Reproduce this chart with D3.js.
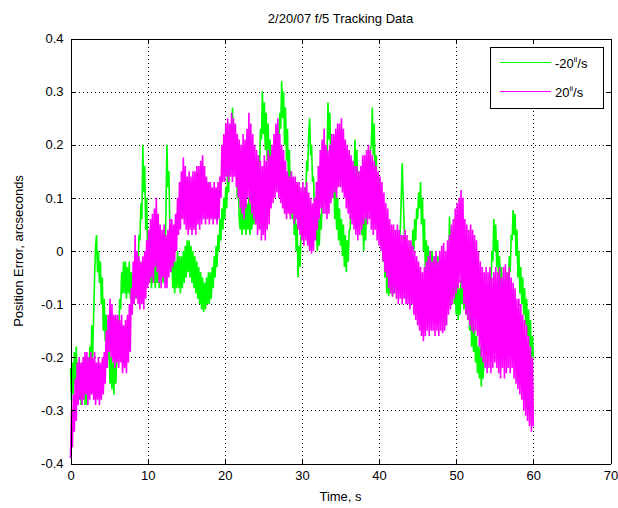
<!doctype html>
<html lang="en">
<head>
<meta charset="UTF-8">
<title>2/20/07 f/5 Tracking Data</title>
<style>
    body { margin: 0; background: #fff; }
    svg { display: block; font-family: "Liberation Sans", Arial, sans-serif; }
    .grid line { stroke: #000; stroke-width: 1; stroke-dasharray: 1,3; shape-rendering: crispEdges; }
    .axis path, .axis line { stroke: #000; shape-rendering: crispEdges; }
</style>
</head>
<body>
<div class="chart"></div>
<script src="https://cdn.jsdelivr.net/npm/d3@7"></script>
<script>
const xTicks = [0, 10, 20, 30, 40, 50, 60, 70]
const yTicks = [-0.4, -0.3, -0.2, -0.1, 0, 0.1, 0.2, 0.3, 0.4]
const yTickLabels = ['-0.4', '-0.3', '-0.2', '-0.1', '0', '0.1', '0.2', '0.3', '0.4']

// samples every 0.125 s (one row = 1 s)
const sampleStep = 0.125
const minus20 = [
    -0.22, -0.28, -0.21, -0.27, -0.19, -0.25, -0.18, -0.26,
    -0.21, -0.28, -0.22, -0.29, -0.21, -0.28, -0.22, -0.29,
    -0.21, -0.29, -0.20, -0.27, -0.18, -0.24, -0.14, -0.20,
    -0.12, -0.05, 0.01, 0.03, -0.04, 0.00, -0.06, -0.02,
    -0.10, -0.05, -0.15, -0.09, -0.17, -0.12, -0.22, -0.16,
    -0.19, -0.25, -0.20, -0.26, -0.21, -0.27, -0.19, -0.25,
    -0.20, -0.13, -0.16, -0.09, -0.11, -0.04, -0.08, -0.02,
    -0.08, -0.02, -0.09, -0.03, -0.08, -0.02, -0.09, -0.04,
    -0.10, -0.04, -0.10, -0.05, -0.09, -0.03, -0.04, 0.03,
    0.02, 0.09, 0.06, 0.20, 0.11, 0.16, 0.04, 0.10,
    -0.02, 0.03, -0.06, 0.00, -0.07, -0.01, -0.06, 0.00,
    -0.07, -0.01, -0.06, 0.00, -0.07, -0.01, -0.05, 0.00,
    -0.06, 0.00, -0.02, 0.08, 0.20, 0.12, 0.15, 0.05,
    -0.04, 0.02, -0.07, -0.01, -0.08, -0.02, -0.07, 0.00,
    -0.07, -0.01, -0.08, -0.01, -0.07, 0.00, -0.06, 0.01,
    -0.05, 0.02, -0.04, 0.02, -0.05, 0.01, -0.06, 0.00,
    -0.07, -0.01, -0.08, -0.02, -0.09, -0.03, -0.10, -0.04,
    -0.11, -0.05, -0.115, -0.06, -0.11, -0.05, -0.10, -0.04,
    -0.10, -0.04, -0.09, -0.03, -0.07, -0.01, -0.05, 0.01,
    -0.03, 0.03, 0.00, 0.06, 0.02, 0.08, 0.04, 0.10,
    0.06, 0.12, 0.08, 0.15, 0.11, 0.19, 0.15, 0.22,
    0.27, 0.19, 0.23, 0.15, 0.18, 0.10, 0.12, 0.06,
    0.04, 0.10, 0.03, 0.09, 0.04, 0.10, 0.03, 0.09,
    0.04, 0.10, 0.03, 0.09, 0.04, 0.10, 0.05, 0.11,
    0.05, 0.12, 0.10, 0.18, 0.15, 0.23, 0.21, 0.30,
    0.22, 0.28, 0.19, 0.26, 0.17, 0.24, 0.15, 0.21,
    0.13, 0.19, 0.12, 0.18, 0.14, 0.20, 0.17, 0.23,
    0.20, 0.26, 0.23, 0.32, 0.25, 0.30, 0.20, 0.27,
    0.17, 0.23, 0.13, 0.19, 0.09, 0.15, 0.06, 0.12,
    0.03, 0.09, 0.00, 0.05, -0.05, 0.01, -0.03, 0.03,
    0.02, 0.08, 0.06, 0.12, 0.10, 0.17, 0.15, 0.22,
    0.25, 0.18, 0.20, 0.13, 0.14, 0.08, 0.10, 0.03,
    0.00, 0.06, 0.01, 0.07, 0.04, 0.10, 0.08, 0.15,
    0.12, 0.19, 0.17, 0.28, 0.21, 0.26, 0.15, 0.20,
    0.10, 0.16, 0.06, 0.12, 0.04, 0.10, 0.02, 0.08,
    0.01, 0.06, -0.01, 0.05, -0.03, 0.03, -0.04, 0.02,
    -0.02, 0.04, 0.04, 0.10, 0.09, 0.15, 0.14, 0.21,
    0.14, 0.19, 0.09, 0.15, 0.06, 0.12, 0.03, 0.09,
    0.00, 0.06, 0.02, 0.08, 0.07, 0.13, 0.12, 0.19,
    0.20, 0.27, 0.18, 0.24, 0.12, 0.18, 0.07, 0.13,
    0.04, 0.10, 0.01, 0.07, -0.02, 0.04, -0.05, 0.01,
    -0.08, -0.02, -0.085, -0.03, -0.08, -0.02, -0.085, -0.03,
    -0.08, -0.02, -0.07, -0.01, -0.05, 0.02, 0.04, 0.10,
    0.165, 0.10, 0.05, -0.01, -0.03, -0.085, -0.04, -0.08,
    -0.05, 0.01, -0.02, 0.04, 0.00, 0.06, 0.02, 0.08,
    0.06, 0.11, 0.08, 0.13, 0.05, 0.10, 0.00, 0.06,
    -0.04, 0.02, -0.05, 0.01, -0.05, 0.00, -0.06, 0.00,
    -0.07, -0.01, -0.08, -0.02, -0.07, -0.01, -0.09, -0.03,
    -0.11, -0.04, -0.13, -0.06, -0.14, -0.07, -0.10, -0.03,
    -0.05, 0.065, 0.00, 0.04, -0.06, -0.01, -0.10, -0.05,
    -0.12, -0.06, -0.13, -0.07, -0.12, -0.05, -0.10, -0.04,
    -0.11, -0.05, -0.12, -0.06, -0.13, -0.08, -0.15, -0.10,
    -0.18, -0.12, -0.19, -0.14, -0.21, -0.16, -0.23, -0.18,
    -0.24, -0.18, -0.255, -0.20, -0.24, -0.18, -0.20, -0.14,
    -0.16, -0.10, -0.12, -0.05, -0.07, 0.00, -0.02, 0.06,
    0.00, 0.05, -0.03, 0.02, -0.06, -0.01, -0.08, -0.03,
    -0.12, -0.06, -0.12, -0.07, -0.10, -0.04, -0.07, -0.01,
    -0.04, 0.03, 0.02, 0.077, 0.03, 0.07, -0.01, 0.04,
    -0.05, 0.00, -0.08, -0.03, -0.10, -0.05, -0.12, -0.07,
    -0.14, -0.09, -0.16, -0.11, -0.18, -0.13, -0.21, -0.16,
    -0.20
]
const plus20 = [
    -0.39, -0.30, -0.37, -0.27, -0.34, -0.24, -0.32, -0.21,
    -0.29, -0.20, -0.28, -0.21, -0.29, -0.20, -0.28, -0.19,
    -0.27, -0.19, -0.29, -0.20, -0.28, -0.19, -0.27, -0.20,
    -0.28, -0.19, -0.29, -0.21, -0.28, -0.20, -0.29, -0.21,
    -0.28, -0.20, -0.27, -0.19, -0.25, -0.15, -0.22, -0.12,
    -0.19, -0.09, -0.20, -0.10, -0.21, -0.12, -0.22, -0.12,
    -0.21, -0.12, -0.22, -0.13, -0.21, -0.12, -0.23, -0.14,
    -0.22, -0.13, -0.23, -0.12, -0.21, -0.10, -0.19, -0.07,
    -0.12, -0.02, -0.10, 0.03, -0.09, 0.00, -0.10, -0.01,
    -0.11, -0.02, -0.10, -0.01, -0.11, 0.00, -0.09, 0.02,
    -0.07, 0.04, -0.06, 0.06, -0.05, 0.07, -0.06, 0.08,
    -0.03, 0.10, -0.04, 0.07, -0.06, 0.05, -0.07, 0.04,
    -0.05, 0.05, -0.07, 0.03, -0.07, 0.04, -0.05, 0.06,
    -0.04, 0.06, -0.03, 0.05, -0.02, 0.07, 0.00, 0.10,
    0.03, 0.13, 0.04, 0.15, 0.06, 0.176, 0.05, 0.16,
    0.04, 0.14, 0.03, 0.15, 0.04, 0.14, 0.03, 0.15,
    0.04, 0.15, 0.03, 0.16, 0.05, 0.16, 0.04, 0.17,
    0.05, 0.18, 0.06, 0.16, 0.05, 0.14, 0.06, 0.13,
    0.05, 0.13, 0.06, 0.12, 0.05, 0.13, 0.06, 0.12,
    0.05, 0.13, 0.06, 0.14, 0.10, 0.20, 0.13, 0.22,
    0.13, 0.24, 0.14, 0.25, 0.13, 0.24, 0.14, 0.26,
    0.13, 0.25, 0.14, 0.24, 0.12, 0.22, 0.10, 0.21,
    0.08, 0.20, 0.07, 0.22, 0.06, 0.21, 0.08, 0.23,
    0.10, 0.26, 0.09, 0.24, 0.07, 0.22, 0.06, 0.20,
    0.05, 0.19, 0.03, 0.18, 0.04, 0.17, 0.02, 0.16,
    0.03, 0.18, 0.02, 0.17, 0.04, 0.19, 0.05, 0.18,
    0.08, 0.20, 0.09, 0.22, 0.10, 0.24, 0.11, 0.25,
    0.10, 0.22, 0.09, 0.20, 0.08, 0.19, 0.07, 0.17,
    0.06, 0.15, 0.07, 0.14, 0.06, 0.15, 0.07, 0.14,
    0.05, 0.14, 0.06, 0.13, 0.04, 0.13, 0.03, 0.12,
    0.02, 0.13, 0.01, 0.12, 0.02, 0.13, 0.01, 0.11,
    0.00, 0.10, -0.005, 0.09, 0.00, 0.10, 0.02, 0.13,
    0.04, 0.16, 0.06, 0.19, 0.08, 0.21, 0.07, 0.23,
    0.07, 0.20, 0.06, 0.19, 0.07, 0.20, 0.09, 0.22,
    0.10, 0.22, 0.11, 0.23, 0.10, 0.24, 0.12, 0.24,
    0.12, 0.25, 0.11, 0.23, 0.10, 0.21, 0.08, 0.20,
    0.07, 0.19, 0.06, 0.18, 0.05, 0.17, 0.04, 0.16,
    0.03, 0.16, 0.02, 0.15, 0.03, 0.16, 0.04, 0.18,
    0.05, 0.18, 0.06, 0.19, 0.05, 0.20, 0.06, 0.19,
    0.04, 0.18, 0.03, 0.17, 0.04, 0.16, 0.02, 0.15,
    0.01, 0.14, 0.00, 0.13, -0.02, 0.11, -0.04, 0.09,
    -0.05, 0.08, -0.07, 0.06, -0.08, 0.05, -0.086, 0.05,
    -0.08, 0.04, -0.09, 0.05, -0.10, 0.04, -0.09, 0.03,
    -0.10, 0.03, -0.09, 0.04, -0.10, 0.03, -0.10, 0.02,
    -0.11, 0.02, -0.10, 0.01, -0.12, 0.00, -0.13, -0.01,
    -0.14, -0.02, -0.15, -0.03, -0.16, -0.04, -0.17, -0.03,
    -0.16, -0.02, -0.15, -0.01, -0.16, 0.00, -0.15, -0.02,
    -0.15, -0.01, -0.16, 0.00, -0.15, -0.02, -0.16, 0.00,
    -0.15, 0.01, -0.155, 0.015, -0.15, 0.00, -0.14, 0.02,
    -0.12, 0.03, -0.11, 0.05, -0.10, 0.06, -0.09, 0.08,
    -0.08, 0.09, -0.07, 0.10, -0.06, 0.115, -0.07, 0.10,
    -0.10, 0.06, -0.12, 0.05, -0.13, 0.04, -0.14, 0.05,
    -0.15, 0.04, -0.155, 0.03, -0.15, 0.02, -0.16, 0.00,
    -0.18, -0.02, -0.20, -0.03, -0.21, -0.04, -0.22, -0.03,
    -0.23, -0.04, -0.22, -0.03, -0.23, -0.05, -0.22, -0.04,
    -0.21, -0.03, -0.22, -0.04, -0.23, -0.03, -0.24, -0.05,
    -0.22, -0.03, -0.24, -0.025, -0.23, -0.04, -0.22, -0.03,
    -0.23, -0.05, -0.22, -0.06, -0.24, -0.07, -0.25, -0.09,
    -0.26, -0.09, -0.27, -0.10, -0.28, -0.12, -0.30, -0.13,
    -0.31, -0.14, -0.32, -0.16, -0.33, -0.18, -0.34, -0.20,
    -0.33
]
const seriesLabels = ['-20', '20']
const seriesColors = ['#00ff00', '#ff00ff']

const dimensions = {
    width: 618,
    height: 508,
    left: 70.5,
    right: 610.5,
    top: 38.5,
    bottom: 463.5
}

const svg = d3.select('.chart')
    .append('svg')
    .attr('width', dimensions.width)
    .attr('height', dimensions.height)

const xScale = d3.scaleLinear().domain([0, 70]).range([dimensions.left, dimensions.right])
const yScale = d3.scaleLinear().domain([-0.4, 0.4]).range([dimensions.bottom, dimensions.top])

// dotted grid
const grid = svg.append('g').attr('class', 'grid')
grid.selectAll('.gx')
    .data(xTicks.slice(1, -1))
    .enter().append('line')
    .attr('x1', d => Math.round(xScale(d)) + 0.5)
    .attr('x2', d => Math.round(xScale(d)) + 0.5)
    .attr('y1', dimensions.top)
    .attr('y2', dimensions.bottom)
grid.selectAll('.gy')
    .data(yTicks.slice(1, -1))
    .enter().append('line')
    .attr('y1', d => Math.round(yScale(d)) + 0.5)
    .attr('y2', d => Math.round(yScale(d)) + 0.5)
    .attr('x1', dimensions.left)
    .attr('x2', dimensions.right)

// data lines, magenta drawn over green
const line = d3.line()
    .x((d, i) => xScale(i * sampleStep))
    .y(d => yScale(d))
const series = [minus20, plus20]
svg.append('g')
    .selectAll('path')
    .data(series)
    .enter().append('path')
    .attr('d', d => line(d))
    .attr('fill', 'none')
    .attr('stroke', (d, i) => seriesColors[i])
    .attr('stroke-width', 1.6)
    .attr('stroke-linejoin', 'bevel')

// axes with inward ticks on all four sides
function styleAxis(g) {
    g.attr('font-family', null).attr('font-size', 13)
    g.selectAll('text').attr('fill', '#000')
}
svg.append('g')
    .attr('class', 'axis')
    .attr('transform', 'translate(0,' + dimensions.bottom + ')')
    .call(d3.axisBottom(xScale).tickValues(xTicks).tickFormat(d3.format('d'))
        .tickSizeInner(-5).tickSizeOuter(0).tickPadding(7))
    .call(styleAxis)
svg.append('g')
    .attr('class', 'axis')
    .attr('transform', 'translate(' + dimensions.left + ',0)')
    .call(d3.axisLeft(yScale).tickValues(yTicks).tickFormat((d, i) => yTickLabels[i])
        .tickSizeInner(-5).tickSizeOuter(0).tickPadding(7))
    .call(styleAxis)
svg.append('g')
    .attr('class', 'axis')
    .attr('transform', 'translate(0,' + dimensions.top + ')')
    .call(d3.axisTop(xScale).tickValues(xTicks).tickFormat('')
        .tickSizeInner(-5).tickSizeOuter(0))
svg.append('g')
    .attr('class', 'axis')
    .attr('transform', 'translate(' + dimensions.right + ',0)')
    .call(d3.axisRight(yScale).tickValues(yTicks).tickFormat('')
        .tickSizeInner(-5).tickSizeOuter(0))

// titles
svg.append('text')
    .attr('x', (dimensions.left + dimensions.right) / 2)
    .attr('y', 23)
    .attr('text-anchor', 'middle')
    .attr('font-size', 13)
    .text('2/20/07 f/5 Tracking Data')
svg.append('text')
    .attr('x', (dimensions.left + dimensions.right) / 2)
    .attr('y', 501)
    .attr('text-anchor', 'middle')
    .attr('font-size', 13)
    .text('Time, s')
svg.append('text')
    .attr('transform', 'translate(23,' + (dimensions.top + dimensions.bottom) / 2 + ') rotate(-90)')
    .attr('text-anchor', 'middle')
    .attr('font-size', 13)
    .text('Position Error, arcseconds')

// legend
const legend = svg.append('g').attr('id', 'legend')
legend.append('rect')
    .attr('x', 490.5).attr('y', 47.5)
    .attr('width', 113).attr('height', 61)
    .attr('fill', '#fff').attr('stroke', '#000')
const rows = legend.selectAll('.row')
    .data(seriesLabels)
    .enter().append('g')
    .attr('transform', (d, i) => 'translate(0,' + (62.5 + i * 29) + ')')
rows.append('line')
    .attr('x1', 500).attr('x2', 551)
    .attr('stroke', (d, i) => seriesColors[i])
rows.append('text')
    .attr('x', 555)
    .attr('y', 5)
    .attr('font-size', 13)
    .each(function(d) {
        const t = d3.select(this)
        t.append('tspan').text(d)
        t.append('tspan').attr('dy', -6).attr('font-size', 8).text('ii')
        t.append('tspan').attr('dy', 6).text('/s')
    })
</script>
</body>
</html>
